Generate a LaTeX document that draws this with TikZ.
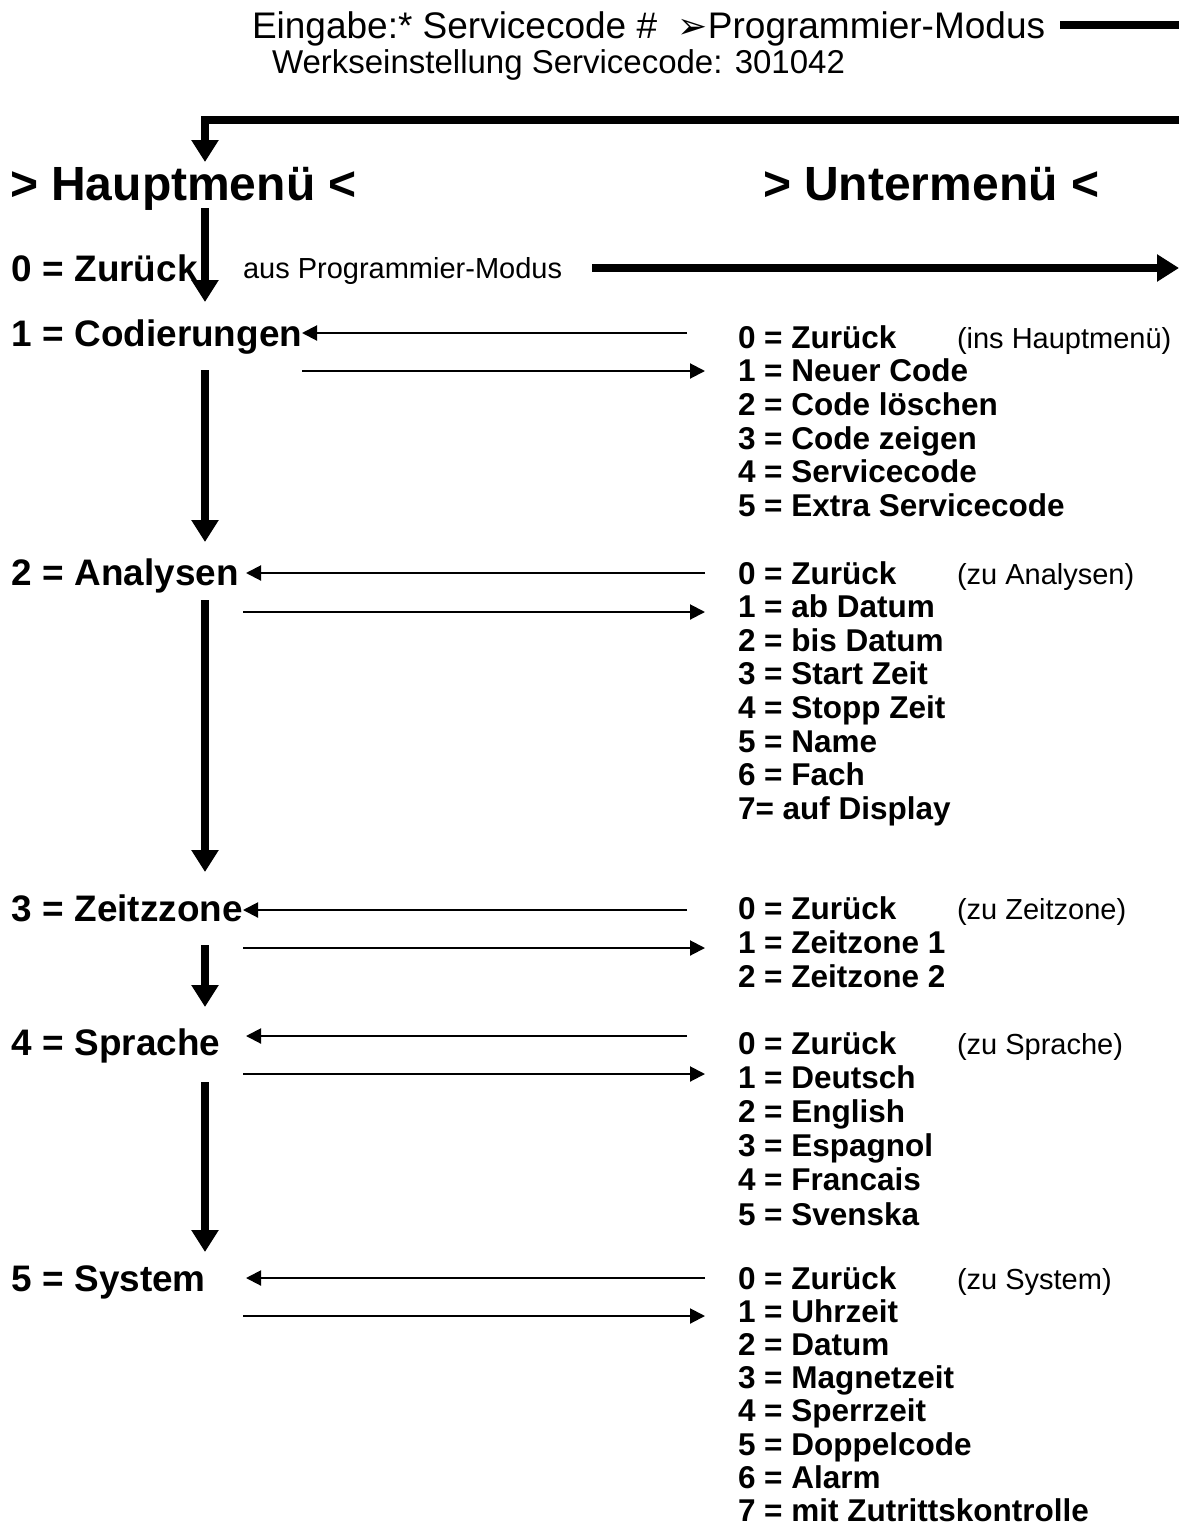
\documentclass[tikz,border=0pt]{standalone}
\usepackage{fontspec}
\setmainfont{Liberation Sans}
\newfontfamily\dejavu{DejaVu Sans}
\usetikzlibrary{arrows.meta}

\tikzset{
  txt/.style={inner sep=0pt, outer sep=0pt, anchor=base west},
  headtxt/.style={txt, font=\fontsize{48}{50}\selectfont\bfseries},
  mainitem/.style={txt, font=\fontsize{36.9}{40}\selectfont\bfseries},
  subitem/.style={txt, font=\fontsize{31.5}{34}\selectfont\bfseries},
  subnote/.style={txt, font=\fontsize{29}{32}\selectfont},
  thickline/.style={line width=7.5pt, line join=miter},
  thickarrow/.style={line width=7.5pt, line join=miter, -{Triangle[length=22pt,width=26pt]}},
  thinarrow/.style={line width=2pt, -{Triangle[length=15pt,width=15pt]}},
}

\begin{document}
\begin{tikzpicture}[x=1pt,y=-1pt]
\useasboundingbox (0,0) rectangle (1179,1528);

% top lines
\node[txt, font=\fontsize{37}{40}\selectfont] (eingabe) at (252,38)
  {Eingabe:* Servicecode \#\ \ {\dejavu\fontsize{36}{38}\selectfont ➢}Programmier-Modus};
\node[txt, font=\fontsize{33}{36}\selectfont] (werk) at (272,74)
  {Werkseinstellung Servicecode: 301042};

% headings
\node[headtxt] (haupt) at (10,200) {> Hauptmenü <};
\node[headtxt] (unter) at (763,200) {> Untermenü <};

% main menu
\node[mainitem] (m0) at (12,281) {0 = Zurück};
\node[subnote] (aus) at (243,278) {aus Programmier-Modus};
\node[mainitem] (m1) at (12,346) {1 = Codierungen};
\node[mainitem] (m2) at (12,585) {2 = Analysen};
\node[mainitem] (m3) at (12,921) {3 = Zeitzzone};
\node[mainitem] (m4) at (12,1055) {4 = Sprache};
\node[mainitem] (m5) at (12,1291) {5 = System};

% sub menus
\foreach \t [count=\i from 0] in {0 = Zurück, 1 = Neuer Code, 2 = Code löschen, 3 = Code zeigen, 4 = Servicecode, 5 = Extra Servicecode}
  \node[subitem] (c\i) at (738,{348+33.7*\i}) {\t};
\node[subnote] (cn) at (957,348) {(ins Hauptmenü)};

\foreach \t [count=\i from 0] in {0 = Zurück, 1 = ab Datum, 2 = bis Datum, 3 = Start Zeit, 4 = Stopp Zeit, 5 = Name, 6 = Fach, 7= auf Display}
  \node[subitem] (a\i) at (738,{584+33.6*\i}) {\t};
\node[subnote] (an) at (957,584) {(zu Analysen)};

\foreach \t [count=\i from 0] in {0 = Zurück, 1 = Zeitzone 1, 2 = Zeitzone 2}
  \node[subitem] (z\i) at (738,{919+34.2*\i}) {\t};
\node[subnote] (zn) at (957,919) {(zu Zeitzone)};

\foreach \t [count=\i from 0] in {0 = Zurück, 1 = Deutsch, 2 = English, 3 = Espagnol, 4 = Francais, 5 = Svenska}
  \node[subitem] (p\i) at (738,{1054+34.2*\i}) {\t};
\node[subnote] (pn) at (957,1054) {(zu Sprache)};

\foreach \t [count=\i from 0] in {0 = Zurück, 1 = Uhrzeit, 2 = Datum, 3 = Magnetzeit, 4 = Sperrzeit, 5 = Doppelcode, 6 = Alarm, 7 = mit Zutrittskontrolle}
  \node[subitem] (y\i) at (738,{1289+33.2*\i}) {\t};
\node[subnote] (yn) at (957,1289) {(zu System)};

% coordinates for connector ends
\coordinate (topR) at (1179,25);
\coordinate (topL) at (1060,25);
\coordinate (retR) at (1179,120);
\coordinate (retC) at (205,120);
\coordinate (retT) at (205,162);
\coordinate (v0s) at (205,208);  \coordinate (v0e) at (205,302);
\coordinate (v1s) at (205,370);  \coordinate (v1e) at (205,542);
\coordinate (v2s) at (205,600);  \coordinate (v2e) at (205,872);
\coordinate (v3s) at (205,945);  \coordinate (v3e) at (205,1007);
\coordinate (v4s) at (205,1082); \coordinate (v4e) at (205,1252);
\coordinate (exS) at (592,268);  \coordinate (exE) at (1179,268);

\coordinate (c-l-s) at (687,333);  \coordinate (c-l-e) at (302,333);
\coordinate (c-r-s) at (302,371);  \coordinate (c-r-e) at (705,371);
\coordinate (a-l-s) at (705,573);  \coordinate (a-l-e) at (246,573);
\coordinate (a-r-s) at (243,612);  \coordinate (a-r-e) at (705,612);
\coordinate (z-l-s) at (687,910);  \coordinate (z-l-e) at (243,910);
\coordinate (z-r-s) at (243,948);  \coordinate (z-r-e) at (705,948);
\coordinate (p-l-s) at (687,1036); \coordinate (p-l-e) at (246,1036);
\coordinate (p-r-s) at (243,1074); \coordinate (p-r-e) at (705,1074);
\coordinate (y-l-s) at (705,1278); \coordinate (y-l-e) at (246,1278);
\coordinate (y-r-s) at (243,1316); \coordinate (y-r-e) at (705,1316);

% thick connectors
\draw[thickline] (topL) -- (topR);
\draw[thickarrow] (retR) -- (retC) -- (retT);
\draw[thickarrow] (v0s) -- (v0e);
\draw[thickarrow] (v1s) -- (v1e);
\draw[thickarrow] (v2s) -- (v2e);
\draw[thickarrow] (v3s) -- (v3e);
\draw[thickarrow] (v4s) -- (v4e);
\draw[thickarrow] (exS) -- (exE);

% thin connectors
\foreach \k in {c,a,z,p,y} {
  \draw[thinarrow] (\k-l-s) -- (\k-l-e);
  \draw[thinarrow] (\k-r-s) -- (\k-r-e);
}
\end{tikzpicture}
\end{document}
